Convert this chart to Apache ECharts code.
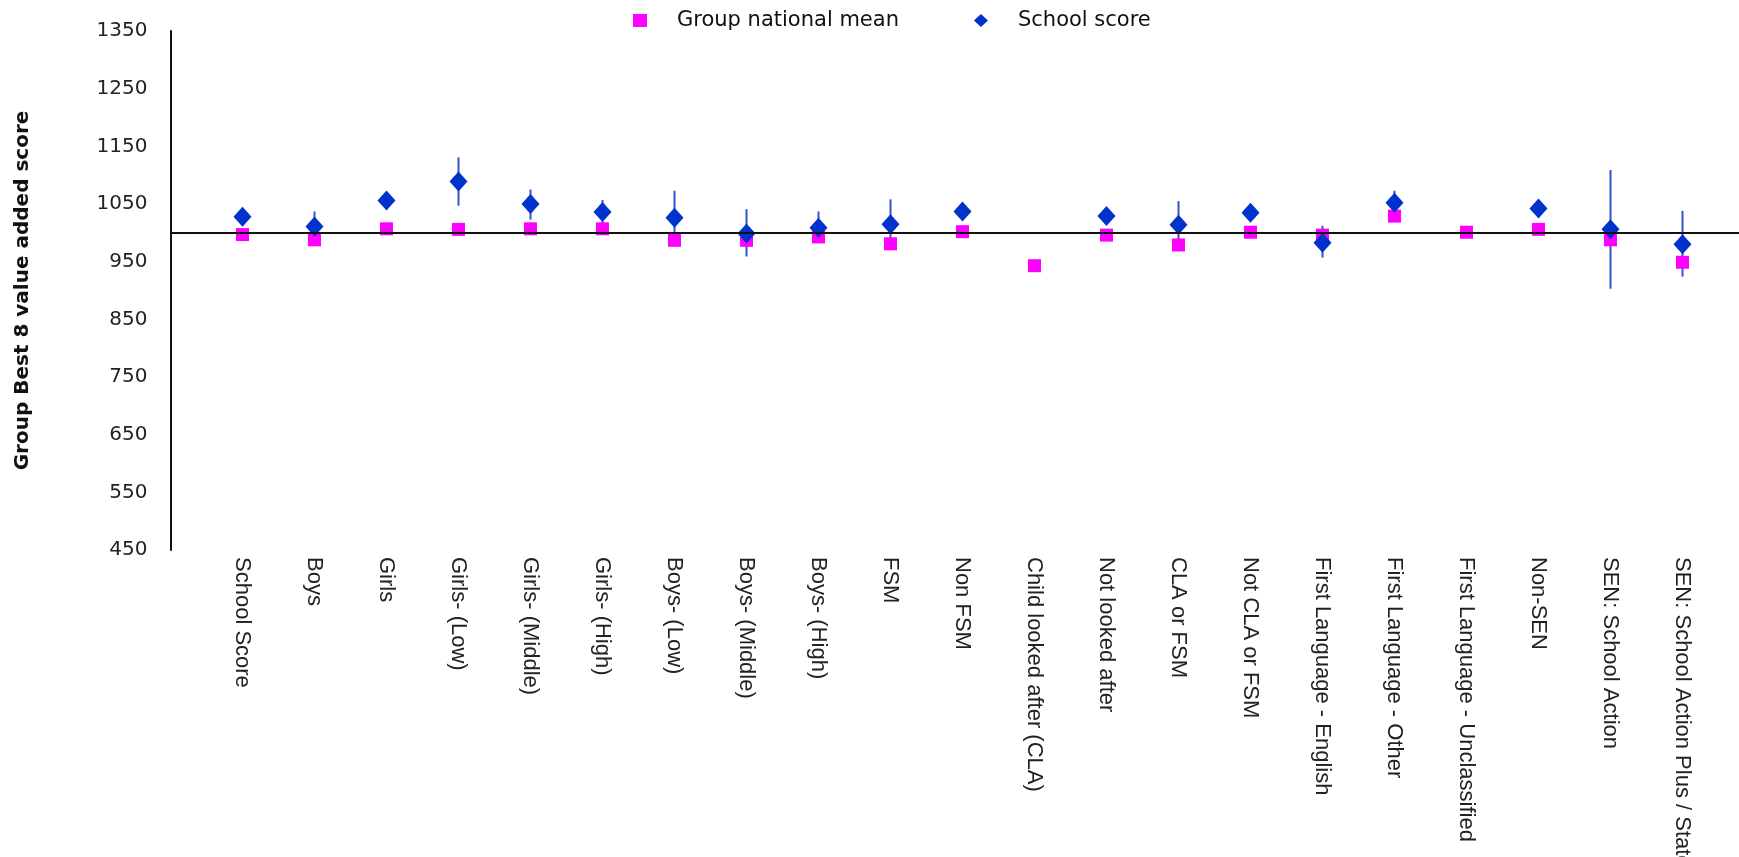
<!DOCTYPE html>
<html>
<head>
<meta charset="utf-8">
<script src="https://cdn.jsdelivr.net/npm/echarts@6/dist/echarts.min.js"></script>
<style>
  html, body { margin: 0; padding: 0; background: #ffffff; }
  #chart { width: 1739px; height: 857px; }
</style>
</head>
<body>
<div id="chart"></div>
<script>
const categories = [
  'School Score', 'Boys', 'Girls', 'Girls- (Low)', 'Girls- (Middle)', 'Girls- (High)',
  'Boys- (Low)', 'Boys- (Middle)', 'Boys- (High)', 'FSM', 'Non FSM',
  'Child looked after (CLA)', 'Not looked after', 'CLA or FSM', 'Not CLA or FSM',
  'First Language - English', 'First Language - Other', 'First Language - Unclassified',
  'Non-SEN', 'SEN: School Action', 'SEN: School Action Plus / Statement'
];
const nationalMean = [997, 988, 1007, 1006, 1007, 1007, 987, 987, 993, 981, 1002,
  943, 996, 979, 1001, 996, 1029, 1001, 1006, 988, 949];
const schoolScore = [1028, 1011, 1056, 1089, 1050, 1036, 1026, 999, 1009, 1015, 1037,
  null, 1029, 1014, 1035, 983, 1052, null, 1042, 1006, 980];
const errorLow = [1020, 985, 1048, 1047, 1023, 1014, 979, 959, 982, 972, 1029,
  null, 1021, 973, 1027, 957, 1031, null, 1034, 903, 924];
const errorHigh = [1036, 1037, 1064, 1131, 1075, 1057, 1073, 1041, 1037, 1058, 1045,
  null, 1037, 1055, 1043, 1012, 1073, null, 1050, 1109, 1038];
const yMin = 450, yMax = 1350, yStep = 100;
const baseline = 1000;

const meanData = nationalMean.map((v, i) => [i + 1, v]);
const schoolData = [];
const errData = [];
schoolScore.forEach((v, i) => {
  if (v != null) {
    schoolData.push([i + 1, v]);
    errData.push([i + 1, errorLow[i], errorHigh[i]]);
  }
});

const chart = echarts.init(document.getElementById('chart'), null, { renderer: 'canvas' });
chart.setOption({
  animation: false,
  backgroundColor: '#ffffff',
  legend: {
    left: 633,
    top: 10,
    padding: 0,
    itemWidth: 14,
    itemHeight: 13,
    itemGap: 75,
    textStyle: { fontFamily: 'DejaVu Sans', fontSize: 21, color: '#111', padding: [0, 0, 0, 25] },
    data: [
      { name: 'Group national mean', icon: 'rect', itemStyle: { color: '#ff00ff', opacity: 1 } },
      { name: 'School score', icon: 'diamond', itemStyle: { color: '#0033cc', opacity: 1 } }
    ]
  },
  grid: { left: 170.5, right: -15.5, top: 31, bottom: 307, containLabel: false, outerBoundsMode: 'none' },
  xAxis: {
    type: 'value',
    min: 0,
    max: categories.length + 1,
    interval: 1,
    axisLine: { show: false },
    axisTick: { show: false },
    splitLine: { show: false },
    axisLabel: {
      rotate: -90,
      margin: 7,
      fontFamily: 'Liberation Sans',
      fontSize: 22,
      color: '#222',
      showMinLabel: true,
      showMaxLabel: true,
      hideOverlap: false,
      formatter: function (v) {
        const idx = Math.round(v) - 1;
        return (idx >= 0 && idx < categories.length) ? categories[idx] : '';
      }
    }
  },
  yAxis: {
    type: 'value',
    min: yMin,
    max: yMax,
    interval: yStep,
    name: 'Group Best 8 value added score',
    nameLocation: 'middle',
    nameRotate: 90,
    nameGap: 138,
    nameTextStyle: { fontFamily: 'DejaVu Sans', fontWeight: 'bold', fontSize: 20, color: '#111' },
    axisLine: { show: true, lineStyle: { color: '#111', width: 2 } },
    axisTick: { show: false },
    splitLine: { show: false },
    axisLabel: {
      margin: 23, fontFamily: 'DejaVu Sans', fontSize: 20, color: '#222',
      formatter: function (v) { return String(v); }
    }
  },
  series: [
    {
      name: 'Error',
      type: 'custom',
      z: 1,
      silent: true,
      data: errData,
      renderItem: function (params, api) {
        const x = api.value(0);
        const lo = api.coord([x, api.value(1)]);
        const hi = api.coord([x, api.value(2)]);
        return {
          type: 'line',
          shape: { x1: lo[0], y1: lo[1], x2: hi[0], y2: hi[1] },
          style: { stroke: '#3352cc', lineWidth: 2 }
        };
      }
    },
    {
      name: 'Group national mean',
      type: 'scatter',
      z: 2,
      symbol: 'rect',
      symbolSize: 13,
      itemStyle: { color: '#ff00ff', opacity: 1 },
      data: meanData,
      markLine: {
        silent: true,
        symbol: 'none',
        label: { show: false },
        lineStyle: { color: '#111', width: 2, type: 'solid' },
        data: [{ yAxis: baseline }]
      }
    },
    {
      name: 'School score',
      type: 'scatter',
      z: 3,
      symbol: 'diamond',
      symbolSize: [18, 20],
      itemStyle: { color: '#0033cc', opacity: 1 },
      data: schoolData
    }
  ]
});
</script>
</body>
</html>
